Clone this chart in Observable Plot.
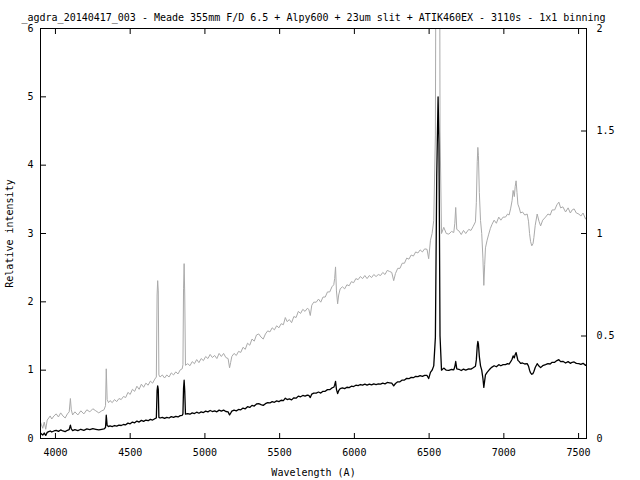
<!DOCTYPE html>
<html><head><meta charset="utf-8">
<script src="https://cdn.jsdelivr.net/npm/d3@7"></script>
<script src="https://cdn.jsdelivr.net/npm/@observablehq/plot@0.6"></script>
<style>html,body{margin:0;padding:0;background:#fff}</style>
</head><body><div id="chart"></div>
<script>
const title = "_agdra_20140417_003 - Meade 355mm F/D 6.5 + Alpy600 + 23um slit + ATIK460EX - 3110s - 1x1 binning";
const xLabel = "Wavelength (A)";
const yLabel = "Relative intensity";
const xTicks = [4000, 4500, 5000, 5500, 6000, 6500, 7000, 7500];
const yTicks = [0, 1, 2, 3, 4, 5, 6];
const y2Ticks = [0, 0.5, 1, 1.5, 2];
const xDomain = [3900, 7553];

const wavelength = [
3900,3905,3915,3925,3935,3945,3955,3965,3975,3990,4005,4020,4035,4050,4065,4080,4092,4100,4106,4115,4130,4150,4170,4190,4210,4230,4250,4270,4290,4310,4325,4335,4340,4346,4355,
4365,4380,4395,4410,4425,4440,4455,4470,4485,4500,4515,4530,4545,4560,4575,4590,4605,4620,4635,4650,4665,4675,4680,4684,4688,4692,4700,4715,4730,4745,4760,4775,4790,4805,4820,4835,4848,4853,4857,4861,4865,4870,
4885,4900,4915,4930,4945,4960,4975,4990,5005,5020,5035,5050,5065,5080,5095,5110,5125,5140,5155,5165,
5172,5180,5195,5210,5225,5240,5255,5270,5285,5300,5315,5330,5345,5360,5375,5390,5405,5420,5435,5450,
5465,5480,5495,5510,5525,5538,5550,5565,5580,5595,5610,5625,5640,5655,5670,5685,5695,5705,5715,5728,
5745,5760,5775,5790,5805,5820,5835,5850,5862,5868,5874,5880,5888,5895,5905,5920,5935,5950,5965,5980,
5995,6010,6025,6040,6055,6070,6085,6100,6115,6130,6145,6160,6175,6190,6205,6220,6235,6250,6263,6275,
6290,6305,6320,6335,6350,6365,6380,6395,6410,6425,6440,6455,6470,6486,6497,6509,6520,6531,
6542,6551,6560,6566,6573,6583,6598,6615,6632,6650,6665,6672,6678,6685,6699,6715,6730,6745,6765,6780,
6795,6810,6816,6822,6826,6830,6836,6844,6852,6860,6866,6872,6877,6888,6899,6910,6921,6935,6950,6966,
6980,6995,7011,7025,7035,7045,7055,7062,7070,7076,7082,7088,7094,7103,7112,7125,7140,7156,7165,7172,
7179,7187,7195,7201,7210,7223,7235,7246,7260,7279,7295,7310,7323,7340,7355,7368,7380,7395,7413,7430,
7445,7457,7470,7485,7502,7515,7530,7547,7553
];
const intensity = [
0.08,0.07,0.05,0.08,0.045,0.09,0.10,0.11,0.095,0.11,0.12,0.105,0.125,0.11,0.10,0.12,0.13,0.195,0.14,0.115,0.13,0.115,0.135,0.12,0.14,0.13,0.145,0.135,0.125,0.135,0.14,0.16,0.34,0.19,0.175,
0.185,0.175,0.19,0.18,0.195,0.19,0.205,0.2,0.225,0.215,0.24,0.23,0.255,0.24,0.265,0.25,0.27,0.26,0.28,0.27,0.29,0.30,0.70,0.77,0.72,0.31,0.30,0.31,0.295,0.31,0.30,0.32,0.31,0.325,0.315,0.335,0.34,0.36,0.73,0.853,0.70,0.357,
0.365,0.355,0.375,0.365,0.385,0.37,0.39,0.38,0.40,0.39,0.41,0.395,0.405,0.39,0.415,0.40,0.415,0.395,0.39,0.345,
0.37,0.40,0.415,0.405,0.425,0.42,0.445,0.435,0.465,0.455,0.485,0.475,0.505,0.51,0.495,0.485,0.51,0.525,0.52,0.54,
0.53,0.55,0.54,0.56,0.555,0.59,0.57,0.58,0.565,0.595,0.59,0.62,0.61,0.63,0.62,0.635,0.63,0.60,0.65,0.665,
0.665,0.68,0.665,0.69,0.69,0.715,0.715,0.74,0.75,0.78,0.837,0.72,0.657,0.70,0.73,0.74,0.73,0.75,0.745,0.765,
0.76,0.78,0.775,0.79,0.78,0.795,0.78,0.795,0.785,0.80,0.79,0.80,0.795,0.81,0.80,0.82,0.815,0.81,0.77,0.805,
0.83,0.83,0.855,0.855,0.88,0.875,0.895,0.89,0.91,0.905,0.92,0.91,0.925,0.923,0.877,0.967,1.0,1.063,
1.48,3.84,5.0,4.31,1.5,1.0,1.03,1.0,0.997,1.01,1.005,1.05,1.127,1.02,1.013,0.995,1.015,1.0,1.02,1.015,
1.035,1.057,1.15,1.35,1.42,1.38,1.2,1.063,1.0,0.88,0.747,0.85,0.93,0.967,0.997,1.025,1.045,1.065,1.05,1.08,
1.065,1.08,1.08,1.095,1.09,1.12,1.16,1.21,1.18,1.23,1.257,1.20,1.143,1.125,1.10,1.105,1.09,1.095,1.06,1.0,
0.96,0.94,0.95,0.98,1.04,1.095,1.06,1.037,1.065,1.08,1.095,1.09,1.115,1.115,1.14,1.153,1.125,1.13,1.105,1.125,
1.10,1.115,1.12,1.10,1.095,1.085,1.10,1.07,1.08
];

const spectrum = wavelength.map((w, i) => ({w, v: intensity[i]}));
const yMax = yTicks[yTicks.length - 1];
const y2Max = y2Ticks[y2Ticks.length - 1];
const k = yMax / y2Max; // secondary axis scale factor

const font = "DejaVu Sans Mono";

const chart = Plot.plot({
  width: 640,
  height: 480,
  marginLeft: 40,
  marginRight: 54,
  marginTop: 28,
  marginBottom: 42,
  style: {fontFamily: font, fontSize: "10px", background: "#fff", color: "#000"},
  x: {domain: xDomain},
  y: {domain: [0, yMax]},
  marks: [
    Plot.line(spectrum, {x: "w", y: d => d.v * k, stroke: "#aaaaaa", strokeWidth: 1, clip: true}),
    Plot.line(spectrum, {x: "w", y: "v", stroke: "#000", strokeWidth: 1.3, clip: true}),
    Plot.frame({stroke: "#000"}),
    Plot.axisX(xTicks, {anchor: "bottom", tickSize: -5, tickPadding: 15, tickFormat: d => String(d), label: xLabel, labelAnchor: "center", labelOffset: 37, labelArrow: false}),
    Plot.axisX(xTicks, {anchor: "top", tickSize: -5, tickFormat: () => "", label: null}),
    Plot.axisY(yTicks, {anchor: "left", tickSize: -6, tickPadding: 13, tickFormat: d => String(d), label: yLabel, labelAnchor: "center", labelOffset: 35, labelArrow: false}),
    Plot.axisY(y2Ticks.map(t => t * k), {anchor: "right", tickSize: -6, tickPadding: 16, tickFormat: t => String(t / k), label: null}),
    Plot.text([title], {frameAnchor: "top", dy: -15, text: d => d, fontSize: 10})
  ]
});
document.getElementById("chart").appendChild(chart);
</script>
</body></html>
